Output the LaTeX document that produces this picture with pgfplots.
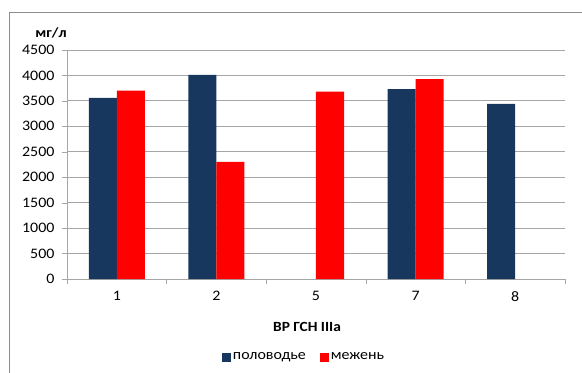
\documentclass[border=0pt]{standalone}
\usepackage{pgfplots}
\pgfplotsset{compat=1.18}
\usepackage{fontspec}
\setmainfont{Carlito}[FakeStretch=1.1]
\definecolor{navy}{HTML}{17375E}
\definecolor{gridc}{HTML}{A6A6A6}
\definecolor{framec}{HTML}{8C8C8C}
\begin{document}
\begin{tikzpicture}
\path[use as bounding box] (-67bp,-94bp) rectangle (515bp,279bp);
\draw[framec, line width=1bp] (-57bp,-95bp) -- (-57bp,266bp) -- (516bp,266bp);
\begin{axis}[
  at={(0,0)}, anchor=south west,
  scale only axis, width=498bp, height=229bp,
  xmin=-0.5, xmax=4.5, ymin=0, ymax=4500,
  ytick={0,500,...,4500},
  xtick={0,1,2,3,4},
  xticklabels={1,2,5,7,8},
  minor xtick={-0.5,0.5,1.5,2.5,3.5,4.5},
  major x tick style={draw=none},
  minor x tick style={draw=gridc},
  minor tick length=5bp, major tick length=5bp,
  tick align=outside,
  ytick style={draw=gridc},
  axis x line*=bottom, axis y line*=left,
  axis line style={draw=gridc, line width=0.8bp},
  ymajorgrids, grid style={draw=gridc, line width=0.8bp},
  /pgf/number format/assume math mode=true,
  /pgf/number format/set thousands separator={},
  ticklabel style={font=\fontsize{14.5bp}{16bp}\selectfont, text=black},
  yticklabel style={xshift=-4bp},
  xticklabel style={yshift=-4bp},
  ybar=0pt, bar width=28bp,
  xlabel={ВР ГСН IIIa}, ylabel={мг/л},
  every axis x label/.style={at={(axis description cs:0.482,-0.21)}, anchor=center, font=\bfseries\fontsize{14bp}{16bp}\selectfont},
  every axis y label/.style={at={(axis description cs:-0.032,1.074)}, anchor=center, font=\bfseries\fontsize{14bp}{16bp}\selectfont},
  legend columns=2,
  legend style={at={(axis description cs:0.476,-0.341)}, anchor=center, draw=none, fill=none,
    font=\fontsize{14.5bp}{16bp}\selectfont,
    /tikz/every even column/.append style={column sep=12bp}},
  legend image code/.code={\fill[#1] (0bp,-4.5bp) rectangle (9bp,4.5bp);},
]
\addplot[fill=navy, draw=none] coordinates {(0,3560) (1,4010) (3,3730) (4,3440)};
\addplot[fill=red, draw=none] coordinates {(0,3700) (1,2300) (2,3680) (3,3930)};
\legend{половодье, межень}
\end{axis}
\end{tikzpicture}
\end{document}
